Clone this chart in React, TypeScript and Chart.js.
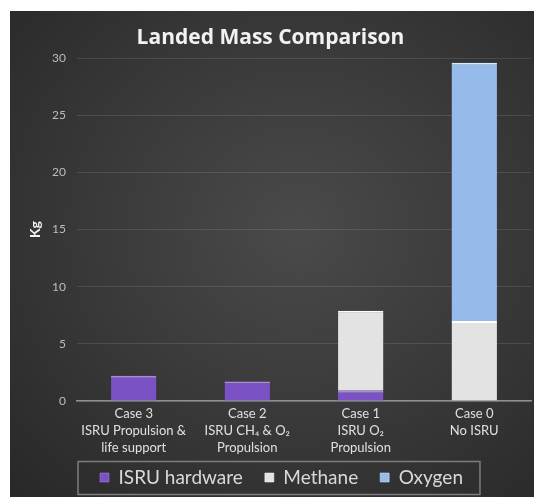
import React, { useEffect, useRef } from "react";
import { Chart, registerables } from "chart.js";

Chart.register(...registerables);

const categories: string[][] = [
  ["Case 3", "ISRU Propulsion &", "life support"],
  ["Case 2", "ISRU CH\u2084 & O\u2082", "Propulsion"],
  ["Case 1", "ISRU O\u2082", "Propulsion"],
  ["Case 0", "No ISRU"],
];
const isruHardware = [2.2, 1.7, 0.9, 0];
const methane = [0, 0, 7.0, 7.0];
const oxygen = [0, 0, 0, 22.6];
const yTicks = [0, 5, 10, 15, 20, 25, 30];

const FONT = "Lato, 'Open Sans', sans-serif";
const TITLE_FONT = "'Open Sans', Lato, sans-serif";

const legendPlugin = {
  id: "legendFrame",
  afterLayout(chart: any) {
    const lg = chart.legend;
    if (lg) {
      lg.left += 11;
      lg.right += 11;
      lg.top -= 15;
      lg.bottom -= 15;
    }
  },
  afterDraw(chart: any) {
    const lg = chart.legend;
    if (!lg || !lg.legendHitBoxes || !lg.legendHitBoxes.length) return;
    const hb = lg.legendHitBoxes;
    let minL = Infinity, maxR = -Infinity, cy = 0;
    hb.forEach((h: any) => {
      minL = Math.min(minL, h.left);
      maxR = Math.max(maxR, h.left + h.width);
      cy = h.top + h.height / 2;
    });
    const ctx = chart.ctx;
    ctx.save();
    ctx.strokeStyle = "#7d7d7d";
    ctx.lineWidth = 1.5;
    ctx.strokeRect(minL - 22, cy - 16, maxR - minL + 39, 33);
    ctx.restore();
  },
};

export default function App() {
  const ref = useRef<HTMLCanvasElement>(null);
  useEffect(() => {
    if (!ref.current) return;
    const chart = new Chart(ref.current, {
      type: "bar",
      data: {
        labels: categories,
        datasets: [
          { label: "ISRU hardware", data: isruHardware, backgroundColor: "#7b52c4", borderColor: "#a98be3", borderWidth: { top: 2, left: 0, right: 0, bottom: 0 } as any, borderSkipped: false },
          { label: "Methane", data: methane, backgroundColor: "#e3e3e3", borderColor: "#ffffff", borderWidth: { top: 2, left: 0, right: 0, bottom: 0 } as any, borderSkipped: false },
          { label: "Oxygen", data: oxygen, backgroundColor: "#96bbeb", borderColor: "#d8ecff", borderWidth: { top: 2, left: 0, right: 0, bottom: 0 } as any, borderSkipped: false },
        ],
      },
      options: {
        responsive: false,
        animation: false,
        layout: { padding: { left: 0, right: 3, top: 0, bottom: 0 } },
        datasets: { bar: { barPercentage: 0.4, categoryPercentage: 1.0 } },
        plugins: {
          title: {
            display: true,
            text: "Landed Mass Comparison",
            color: "#f2f2f2",
            font: { family: TITLE_FONT, size: 21, weight: "bold" },
            padding: { top: 14, bottom: 8 },
          },
          legend: {
            position: "bottom",
            labels: {
              color: "#d9d9d9",
              font: { family: FONT, size: 19 },
              boxWidth: 9,
              boxHeight: 9,
              padding: 22,
            },
          },
          tooltip: { enabled: false },
        },
        scales: {
          x: {
            stacked: true,
            grid: { display: false, drawTicks: false },
            border: { display: true, color: "#8f8f8f", width: 1.5 },
            ticks: { color: "#e0e0e0", font: { family: FONT, size: 13, lineHeight: 1.33 }, padding: 4, maxRotation: 0, autoSkip: false },
            afterFit: (s: any) => { s.height = 60; },
          },
          y: {
            stacked: true,
            min: 0,
            max: 30,
            grid: { color: "rgba(255,255,255,0.11)", lineWidth: 1, drawTicks: false },
            border: { display: false },
            ticks: {
              stepSize: 5,
              color: "#bdbdbd",
              font: { family: FONT, size: 12 },
              padding: 11,
              callback: (v: any) => (yTicks.includes(Number(v)) ? String(v) : ""),
            },
            title: { display: true, text: "Kg", color: "#f0f0f0", font: { family: FONT, size: 14, weight: "bold" }, padding: { top: 17, bottom: 0 } },
            afterFit: (s: any) => { s.width = 67; },
          },
        },
      },
      plugins: [legendPlugin],
    });
    return () => chart.destroy();
  }, []);
  return (
    <div
      style={{
        position: "absolute",
        left: 10,
        top: 11,
        width: 524,
        height: 486,
        overflow: "hidden",
        background: "radial-gradient(ellipse at 55% 45%, #4a4a4a 0%, #3b3b3b 45%, #282828 100%)",
      }}
    >
      <canvas ref={ref} width={524} height={501} style={{ display: "block" }} />
    </div>
  );
}
